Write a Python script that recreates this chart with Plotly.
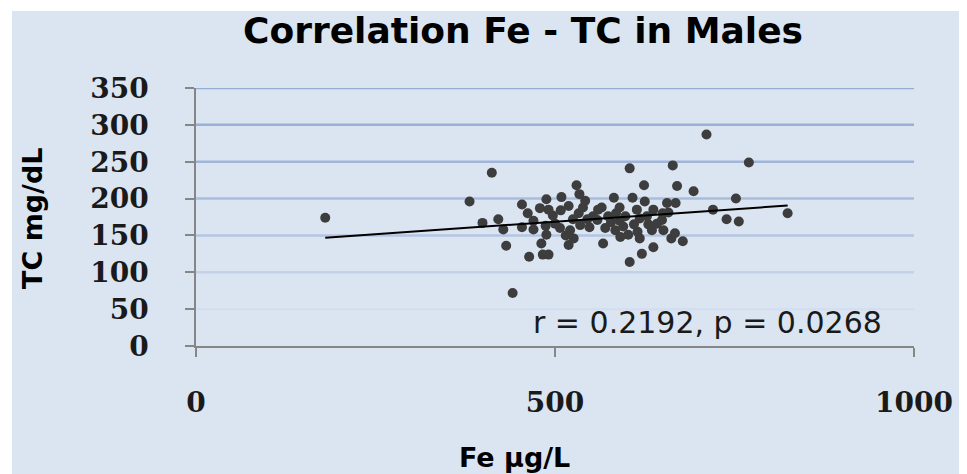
import plotly.graph_objects as go

# Fe (µg/L) and TC (mg/dL) values
fe = [180, 381, 399, 412, 421, 428, 432, 441, 454, 454, 462, 464, 470, 479, 481,
      483, 491, 488, 487, 488, 491, 497, 507, 508, 509, 519, 519, 521, 526, 530,
      533, 534, 535, 539, 542, 548, 553, 559, 565, 567, 570, 574, 582, 584, 590,
      591, 595, 598, 602, 604, 604, 608, 614, 618, 618, 621, 624, 625, 635, 637,
      637, 642, 651, 649, 656, 658, 662, 664, 667, 668, 670, 678, 693, 711, 720,
      739, 752, 756, 770, 824, 525, 545, 578, 610, 628, 500, 560, 590, 470, 515,
      585, 615, 630, 650]
tc = [174, 196, 167, 235, 172, 158, 136, 72, 192, 161, 180, 121, 158, 187, 139,
      124, 124, 151, 163, 199, 185, 177, 160, 184, 202, 190, 137, 157, 146, 218,
      180, 206, 164, 188, 197, 161, 176, 171, 188, 139, 160, 176, 201, 157, 188,
      148, 162, 176, 151, 114, 241, 201, 185, 173, 146, 125, 218, 196, 157, 185,
      134, 166, 157, 171, 194, 181, 146, 245, 153, 194, 217, 142, 210, 287, 185,
      172, 200, 169, 249, 180, 172, 172, 168, 165, 176, 166, 185, 170, 170, 150,
      180, 155, 165, 180]

# Linear trend line end points
trend_x = [180, 824]
trend_y = [147, 190.5]

x_ticks = [0, 500, 1000]
y_ticks = [0, 50, 100, 150, 200, 250, 300, 350]

title_text = "Correlation Fe - TC in Males"
x_title = "Fe µg/L"
y_title = "TC mg/dL"
stats_text = "r = 0.2192, p = 0.0268"

# ---- styling / layout ----
BG = "#dbe5f1"
GRID_COLORS = {50: "#d3def0", 100: "#c4d2e8", 150: "#b3c5e1", 200: "#a8bcdc",
               250: "#a0b5d9", 300: "#9ab0d6", 350: "#96add5"}
OFF = 8                      # page body margin of the browser
W, H = 967 - OFF, 474 - OFF
L, T = 196 - OFF, 88 - OFF
R = W - (914 - OFF)
B = H - (346 - OFF)
pw, ph = W - L - R, H - T - B


def px(rx):
    """reference page x pixel -> paper x"""
    return (rx - OFF - L) / pw


def py(ry):
    """reference page y pixel -> paper y"""
    return (H - B - (ry - OFF)) / ph


fig = go.Figure()

fig.add_trace(go.Scatter(
    x=fe, y=tc, mode="markers",
    marker=dict(size=10, color="#3d3d3d", line=dict(width=0)),
    showlegend=False, hoverinfo="x+y"))

fig.add_trace(go.Scatter(
    x=trend_x, y=trend_y, mode="lines",
    line=dict(color="#000000", width=2),
    showlegend=False, hoverinfo="skip"))

fig.add_shape(type="rect", xref="paper", yref="paper", layer="below",
              x0=px(12), x1=px(959), y0=py(474), y1=py(11),
              fillcolor=BG, line=dict(width=0))

for v in y_ticks[1:]:
    fig.add_shape(type="line", xref="paper", yref="y", layer="below",
                  x0=0, x1=1, y0=v, y1=v,
                  line=dict(color=GRID_COLORS[v], width=2.5))

tickfont = dict(family="DejaVu Serif", size=28, color="#1a1a1a", weight="bold")
label_font = dict(family="DejaVu Sans", size=27, color="#000000", weight="bold")

fig.update_layout(
    width=W, height=H,
    margin=dict(l=L, r=R, t=T, b=B, pad=0),
    paper_bgcolor="white", plot_bgcolor="rgba(0,0,0,0)",
    xaxis=dict(range=[0, 1000], tickvals=x_ticks, ticktext=[str(v) for v in x_ticks],
               showgrid=False, zeroline=False, showline=True, linecolor="#868686",
               linewidth=1.5, ticks="outside", ticklen=9, tickcolor="#868686",
               tickwidth=1.5, tickfont=tickfont, ticklabelstandoff=22,
               fixedrange=True),
    yaxis=dict(range=[0, 350], tickvals=y_ticks, ticktext=[str(v) for v in y_ticks],
               showgrid=False, zeroline=False, showline=True, linecolor="#868686",
               linewidth=1.5, ticks="outside", ticklen=9, tickcolor="#868686",
               tickwidth=1.5, tickfont=tickfont, ticklabelstandoff=31,
               fixedrange=True),
    annotations=[
        dict(text=title_text, xref="paper", yref="paper",
             x=px(523), y=py(30), showarrow=False,
             xanchor="center", yanchor="middle",
             font=dict(family="DejaVu Sans", size=36, color="#000000", weight="bold")),
        dict(text=y_title, textangle=-90, xref="paper", yref="paper",
             x=px(32), y=py(218), showarrow=False,
             xanchor="center", yanchor="middle", font=label_font),
        dict(text=x_title, xref="paper", yref="paper",
             x=px(514), y=py(458), showarrow=False,
             xanchor="center", yanchor="middle", font=label_font),
        dict(text=stats_text, xref="paper", yref="paper",
             x=px(707), y=py(322), showarrow=False,
             xanchor="center", yanchor="middle",
             font=dict(family="DejaVu Sans", size=30, color="#1a1a1a")),
    ],
)

fig.write_html("out.html")
